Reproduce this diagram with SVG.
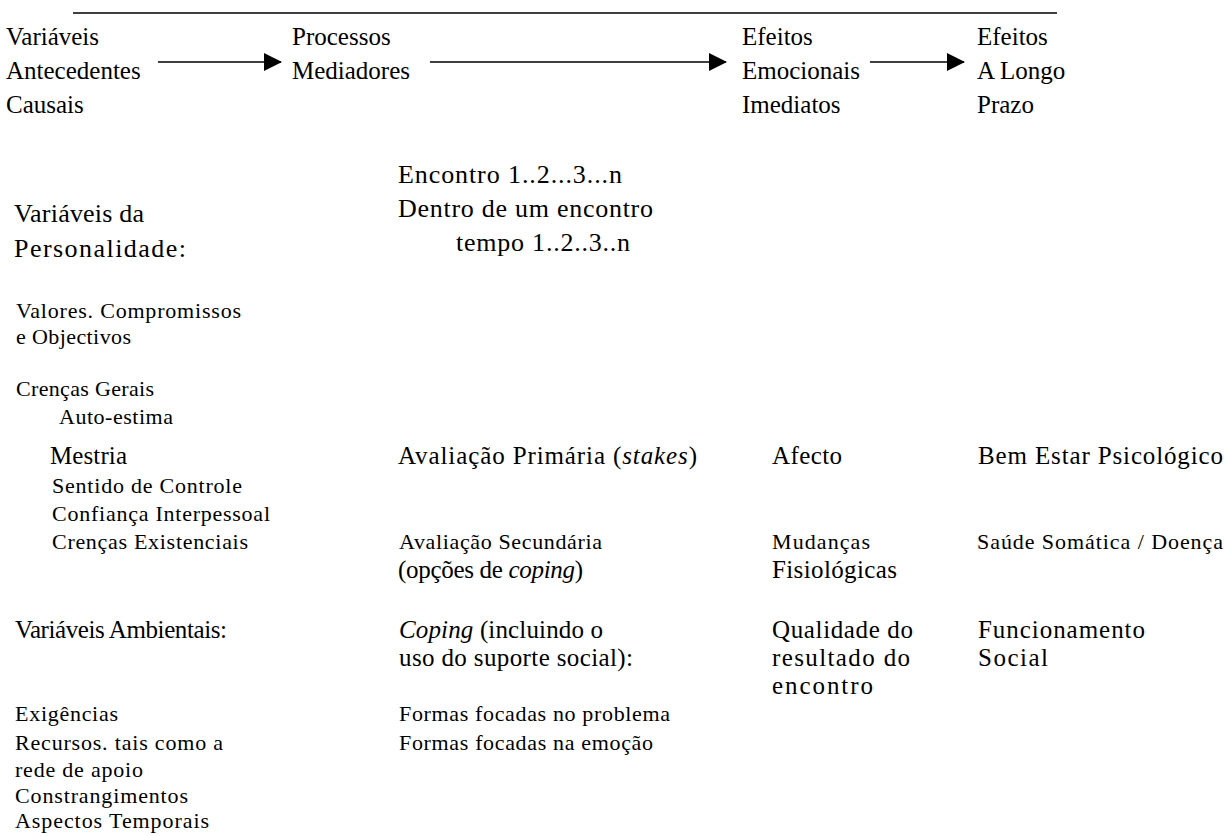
<svg xmlns="http://www.w3.org/2000/svg" width="1229" height="836" viewBox="0 0 1229 836">
  <style>
    text { font-family: "Liberation Serif", "Times New Roman", serif; fill: #000; }
    .h { font-size: 25px; }
    .t { font-size: 26px; }
    .m { font-size: 25px; }
    .s { font-size: 22px; }
    .conn line { stroke: #000; stroke-width: 1.6; }
  </style>
  <defs>
    <marker id="bighead" viewBox="0 0 18 18" markerWidth="18" markerHeight="18" refX="17" refY="9" orient="auto" markerUnits="userSpaceOnUse">
      <path d="M0,0 L18,9 L0,18 Z" fill="#000"/>
    </marker>
  </defs>

  <!-- rule across the top -->
  <line x1="73" y1="13" x2="1057" y2="13" stroke="#000" stroke-width="1.5"/>

  <!-- stage headings -->
  <g id="stage-antecedentes" class="h">
    <text x="6" y="45">Variáveis</text>
    <text x="6" y="79">Antecedentes</text>
    <text x="6" y="113">Causais</text>
  </g>
  <g id="stage-mediadores" class="h">
    <text x="292" y="45">Processos</text>
    <text x="292" y="79">Mediadores</text>
  </g>
  <g id="stage-imediatos" class="h">
    <text x="742" y="45">Efeitos</text>
    <text x="742" y="79">Emocionais</text>
    <text x="742" y="113">Imediatos</text>
  </g>
  <g id="stage-longo-prazo" class="h">
    <text x="977" y="45">Efeitos</text>
    <text x="977" y="79">A Longo</text>
    <text x="977" y="113">Prazo</text>
  </g>

  <!-- arrows between stages -->
  <g id="connectors" class="conn">
    <line x1="158" y1="62" x2="281" y2="62" marker-end="url(#bighead)"/>
    <line x1="430" y1="62" x2="726" y2="62" marker-end="url(#bighead)"/>
    <line x1="870" y1="62" x2="964" y2="62" marker-end="url(#bighead)"/>
  </g>

  <!-- encounter timing -->
  <g id="encontro" class="t">
    <text x="398" y="183" textLength="224">Encontro 1..2...3...n</text>
    <text x="398" y="217" textLength="255">Dentro de um encontro</text>
    <text x="456" y="251" textLength="174">tempo 1..2..3..n</text>
  </g>

  <!-- antecedent column -->
  <g id="personalidade">
    <text class="t" x="14" y="222" textLength="130">Variáveis da</text>
    <text class="t" x="14" y="257" textLength="172">Personalidade:</text>
    <text class="s" x="16" y="318" textLength="225">Valores. Compromissos</text>
    <text class="s" x="16" y="344" textLength="115">e Objectivos</text>
    <text class="s" x="16" y="396" textLength="138">Crenças Gerais</text>
    <text class="s" x="59" y="424" textLength="114">Auto-estima</text>
    <text class="m" x="50" y="464" textLength="77">Mestria</text>
    <text class="s" x="52" y="493" textLength="190">Sentido de Controle</text>
    <text class="s" x="52" y="521" textLength="218">Confiança Interpessoal</text>
    <text class="s" x="52" y="549" textLength="196">Crenças Existenciais</text>
  </g>
  <g id="ambientais">
    <text class="m" x="15" y="638" textLength="212">Variáveis Ambientais:</text>
    <text class="s" x="15" y="721" textLength="103">Exigências</text>
    <text class="s" x="15" y="750" textLength="208">Recursos. tais como a</text>
    <text class="s" x="15" y="777" textLength="128">rede de apoio</text>
    <text class="s" x="15" y="803" textLength="173">Constrangimentos</text>
    <text class="s" x="15" y="828" textLength="194">Aspectos Temporais</text>
  </g>

  <!-- mediating processes column -->
  <g id="avaliacao-primaria">
    <text class="m" x="398" y="464" textLength="299">Avaliação Primária (<tspan font-style="italic">stakes</tspan>)</text>
  </g>
  <g id="avaliacao-secundaria">
    <text class="s" x="399" y="549" textLength="203">Avaliação Secundária</text>
    <text class="m" x="398" y="578" textLength="185">(opções de <tspan font-style="italic">coping</tspan>)</text>
  </g>
  <g id="coping">
    <text class="m" x="399" y="638" textLength="204"><tspan font-style="italic">Coping</tspan> (incluindo o</text>
    <text class="m" x="399" y="666" textLength="234">uso do suporte social):</text>
    <text class="s" x="399" y="721" textLength="271">Formas focadas no problema</text>
    <text class="s" x="399" y="750" textLength="254">Formas focadas na emoção</text>
  </g>

  <!-- immediate effects column -->
  <g id="afecto">
    <text class="m" x="772" y="464" textLength="70">Afecto</text>
  </g>
  <g id="mudancas">
    <text class="s" x="772" y="549" textLength="98">Mudanças</text>
    <text class="m" x="772" y="578" textLength="125">Fisiológicas</text>
  </g>
  <g id="qualidade">
    <text class="m" x="772" y="638" textLength="141">Qualidade do</text>
    <text class="m" x="772" y="666" textLength="138">resultado do</text>
    <text class="m" x="772" y="694" textLength="101">encontro</text>
  </g>

  <!-- long-term effects column -->
  <g id="bem-estar">
    <text class="m" x="978" y="464" textLength="245">Bem Estar Psicológico</text>
  </g>
  <g id="saude">
    <text class="s" x="977" y="549" textLength="246">Saúde Somática / Doença</text>
  </g>
  <g id="funcionamento">
    <text class="m" x="978" y="638" textLength="167">Funcionamento</text>
    <text class="m" x="978" y="666" textLength="70">Social</text>
  </g>
</svg>
